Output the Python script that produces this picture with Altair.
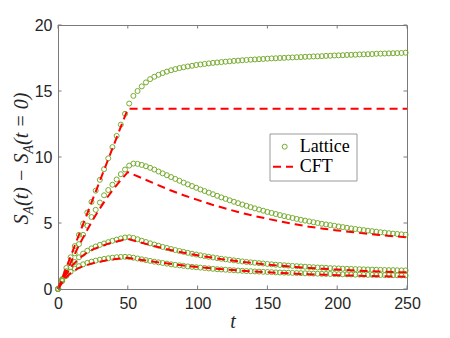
import altair as alt
import pandas as pd

# ---------------- data ----------------
t_lattice = [0, 3, 6, 9, 12, 15, 18, 21, 24, 27, 30, 33, 36, 39, 42, 45, 48, 51, 54, 57,
             60, 63, 66, 69, 72, 75, 78, 81, 84, 87, 90, 93, 96, 99, 102, 105, 108, 111, 114, 117,
             120, 123, 126, 129, 132, 135, 138, 141, 144, 147, 150, 153, 156, 159, 162, 165, 168, 171, 174, 177,
             180, 183, 186, 189, 192, 195, 198, 201, 204, 207, 210, 213, 216, 219, 222, 225, 228, 231, 234, 237,
             240, 243, 246, 249]

lattice_1 = [0.0, 0.75, 1.6, 2.4, 3.25, 4.1, 4.95, 5.8, 6.6, 7.45, 8.27, 9.08, 9.9, 10.75, 11.6, 12.45, 13.27, 14.05, 14.63, 15.0,
             15.35, 15.65, 15.9, 16.08, 16.23, 16.36, 16.47, 16.57, 16.66, 16.74, 16.8, 16.86, 16.91, 16.97, 17.01, 17.05, 17.09, 17.13, 17.16, 17.19,
             17.22, 17.25, 17.28, 17.3, 17.33, 17.35, 17.37, 17.39, 17.41, 17.43, 17.45, 17.47, 17.48, 17.5, 17.51, 17.53, 17.54, 17.56, 17.57, 17.59,
             17.6, 17.62, 17.63, 17.64, 17.66, 17.67, 17.69, 17.7, 17.71, 17.73, 17.74, 17.75, 17.77, 17.78, 17.79, 17.8, 17.82, 17.83, 17.84, 17.85,
             17.86, 17.87, 17.88, 17.9]

lattice_2 = [0.0, 0.7, 1.35, 2.0, 2.7, 3.4, 4.1, 4.8, 5.45, 6.0, 6.55, 7.1, 7.5, 7.9, 8.3, 8.7, 9.05, 9.35, 9.5, 9.48,
             9.4, 9.3, 9.18, 9.05, 8.9, 8.76, 8.62, 8.48, 8.34, 8.2, 8.06, 7.93, 7.8, 7.67, 7.54, 7.42, 7.3, 7.18, 7.06, 6.94,
             6.83, 6.72, 6.61, 6.5, 6.4, 6.3, 6.2, 6.11, 6.02, 5.93, 5.84, 5.76, 5.68, 5.6, 5.52, 5.45, 5.38, 5.31, 5.24, 5.18,
             5.12, 5.06, 5.0, 4.94, 4.89, 4.84, 4.79, 4.74, 4.69, 4.64, 4.59, 4.55, 4.5, 4.46, 4.42, 4.38, 4.34, 4.3, 4.27, 4.23,
             4.2, 4.17, 4.14, 4.11]

lattice_3 = [0.0, 0.65, 1.2, 1.65, 2.05, 2.4, 2.68, 2.9, 3.08, 3.22, 3.34, 3.45, 3.55, 3.65, 3.74, 3.83, 3.9, 3.92, 3.87, 3.77,
             3.66, 3.56, 3.46, 3.37, 3.28, 3.19, 3.11, 3.03, 2.95, 2.88, 2.81, 2.74, 2.67, 2.61, 2.55, 2.49, 2.44, 2.39, 2.34, 2.29,
             2.25, 2.21, 2.17, 2.13, 2.09, 2.05, 2.02, 1.99, 1.96, 1.93, 1.9, 1.87, 1.84, 1.82, 1.8, 1.77, 1.75, 1.73, 1.71, 1.69,
             1.67, 1.65, 1.63, 1.62, 1.6, 1.58, 1.57, 1.56, 1.54, 1.53, 1.52, 1.51, 1.5, 1.49, 1.48, 1.47, 1.46, 1.45, 1.44, 1.43,
             1.43, 1.42, 1.41, 1.41]

lattice_4 = [0.0, 0.6, 1.0, 1.3, 1.55, 1.73, 1.87, 1.98, 2.07, 2.15, 2.22, 2.28, 2.33, 2.37, 2.41, 2.43, 2.44, 2.42, 2.37, 2.31,
             2.25, 2.19, 2.13, 2.07, 2.02, 1.97, 1.92, 1.87, 1.83, 1.79, 1.75, 1.71, 1.68, 1.65, 1.62, 1.59, 1.56, 1.53, 1.5, 1.48,
             1.46, 1.44, 1.42, 1.4, 1.38, 1.36, 1.35, 1.33, 1.32, 1.3, 1.29, 1.28, 1.26, 1.25, 1.24, 1.23, 1.22, 1.21, 1.2, 1.19,
             1.18, 1.17, 1.16, 1.15, 1.14, 1.14, 1.13, 1.12, 1.11, 1.11, 1.1, 1.09, 1.09, 1.08, 1.07, 1.07, 1.06, 1.06, 1.05, 1.05,
             1.04, 1.04, 1.03, 1.03]

t_cft = [0, 5, 10, 15, 20, 25, 30, 35, 40, 45, 50, 60, 70, 80, 90, 100, 110, 120, 130, 140,
         150, 160, 170, 180, 190, 200, 210, 220, 230, 240, 250]

cft_1 = [0.0, 1.37, 2.73, 4.1, 5.46, 6.83, 8.19, 9.56, 10.92, 12.29, 13.65, 13.65, 13.65, 13.65, 13.65, 13.65, 13.65, 13.65, 13.65, 13.65,
         13.65, 13.65, 13.65, 13.65, 13.65, 13.65, 13.65, 13.65, 13.65, 13.65, 13.65]
cft_2 = [0.0, 1.1, 2.2, 3.3, 4.3, 5.25, 6.1, 6.9, 7.6, 8.25, 8.85, 8.4, 7.95, 7.5, 7.1, 6.75, 6.4, 6.1, 5.8, 5.55,
         5.32, 5.1, 4.9, 4.72, 4.57, 4.44, 4.32, 4.2, 4.1, 4.0, 3.92]
cft_3 = [0.0, 1.0, 1.75, 2.3, 2.7, 3.0, 3.2, 3.4, 3.55, 3.68, 3.8, 3.5, 3.22, 2.97, 2.75, 2.55, 2.38, 2.22, 2.08, 1.96,
         1.85, 1.76, 1.67, 1.6, 1.53, 1.47, 1.42, 1.37, 1.33, 1.29, 1.26]
cft_4 = [0.0, 0.8, 1.3, 1.6, 1.8, 1.95, 2.07, 2.17, 2.25, 2.31, 2.36, 2.2, 2.05, 1.91, 1.78, 1.67, 1.57, 1.48, 1.4, 1.33,
         1.27, 1.21, 1.16, 1.12, 1.08, 1.05, 1.02, 0.99, 0.97, 0.95, 0.93]

x_ticks = [0, 50, 100, 150, 200, 250]
y_ticks = [0, 5, 10, 15, 20]
legend_labels = ["Lattice", "CFT"]

# ---------------- build tables ----------------
rows = []
for k, ys in enumerate([lattice_1, lattice_2, lattice_3, lattice_4], 1):
    assert len(ys) == len(t_lattice), (k, len(ys))
    for t, v in zip(t_lattice, ys):
        rows.append({"t": t, "S": v, "series": f"L{k}"})
lat_df = pd.DataFrame(rows)

rows = []
for k, ys in enumerate([cft_1, cft_2, cft_3, cft_4], 1):
    assert len(ys) == len(t_cft), (k, len(ys))
    for t, v in zip(t_cft, ys):
        rows.append({"t": t, "S": v, "series": f"C{k}"})
cft_df = pd.DataFrame(rows)

# ---------------- style ----------------
W, H = 349, 264
GREEN = "#77AC30"
RED = "#FF0000"
AXIS = "#7a7a7a"
TXT = "#262626"
TICK = 3.5
MSIZE = 25

xscale = alt.Scale(domain=[0, 250], nice=False, zero=False)
yscale = alt.Scale(domain=[0, 20], nice=False, zero=False)
xaxis = alt.Axis(values=x_ticks, ticks=False, domain=False, grid=False,
                 labelFont="Liberation Sans", labelFontSize=16, labelColor=TXT,
                 labelPadding=6, labelFlush=False,
                 title="t", titleFont="Liberation Serif", titleFontStyle="italic",
                 titleFontWeight="normal", titleFontSize=20, titleColor=TXT, titlePadding=0)
yaxis = alt.Axis(values=y_ticks, ticks=False, domain=False, grid=False,
                 labelFont="Liberation Sans", labelFontSize=16, labelColor=TXT,
                 labelPadding=6, labelFlush=False, title=None)
X = alt.X("t:Q", scale=xscale, axis=xaxis)
Y = alt.Y("S:Q", scale=yscale, axis=yaxis)

points = alt.Chart(lat_df).mark_point(shape="circle", filled=False, color=GREEN, size=MSIZE,
                                      strokeWidth=1, opacity=1).encode(x=X, y=Y, detail="series:N")
lines = alt.Chart(cft_df).mark_line(color=RED, strokeWidth=2, strokeDash=[8, 5]).encode(
    x=X, y=Y, detail="series:N")

xt_df = pd.DataFrame({"t": x_ticks})
yt_df = pd.DataFrame({"S": y_ticks})
tick_layers = [
    alt.Chart(xt_df).mark_rule(color=AXIS, strokeWidth=1).encode(x=X, y=alt.value(H), y2=alt.value(H - TICK)),
    alt.Chart(xt_df).mark_rule(color=AXIS, strokeWidth=1).encode(x=X, y=alt.value(0), y2=alt.value(TICK)),
    alt.Chart(yt_df).mark_rule(color=AXIS, strokeWidth=1).encode(y=Y, x=alt.value(0), x2=alt.value(TICK)),
    alt.Chart(yt_df).mark_rule(color=AXIS, strokeWidth=1).encode(y=Y, x=alt.value(W), x2=alt.value(W - TICK)),
]

one = alt.Data(values=[{}])
leg_box = alt.Chart(one).mark_rect(fill="white", stroke="#9a9a9a", strokeWidth=1).encode(
    x=alt.value(212), x2=alt.value(299), y=alt.value(109), y2=alt.value(156))
leg_pt = alt.Chart(one).mark_point(shape="circle", filled=False, color=GREEN, size=MSIZE, strokeWidth=1,
                                   opacity=1).encode(x=alt.value(226.7), y=alt.value(121.7))
leg_ln = alt.Chart(one).mark_rule(color=RED, strokeWidth=2, strokeDash=[8, 5]).encode(
    x=alt.value(215), x2=alt.value(235), y=alt.value(141.7))
leg_t1 = alt.Chart(one).mark_text(text=legend_labels[0], align="left", baseline="middle",
                                  font="Liberation Serif", fontSize=18, color="black").encode(
    x=alt.value(241.7), y=alt.value(122))
leg_t2 = alt.Chart(one).mark_text(text=legend_labels[1], align="left", baseline="middle",
                                  font="Liberation Serif", fontSize=18, color="black").encode(
    x=alt.value(241.7), y=alt.value(142))

# y-axis title  S_A(t) - S_A(t = 0), built from pieces (subscripts)
title_parts = [("S", 20, 199.5, -29.8), ("A", 14, 189.5, -25.5), ("(t) \u2212 S", 20, 180.9, -29.8),
               ("A", 14, 128.5, -25.5), ("(t = 0)", 20, 120.0, -29.8)]
title_layers = []
for txt, fs, py, px in title_parts:
    title_layers.append(
        alt.Chart(one).mark_text(text=txt, align="left", baseline="alphabetic", angle=270,
                                 font="Liberation Serif", fontStyle="italic", fontSize=fs,
                                 color=TXT).encode(x=alt.value(px), y=alt.value(py)))

chart = alt.layer(points, lines, *tick_layers, leg_box, leg_pt, leg_ln, leg_t1, leg_t2,
                  *title_layers).properties(
    width=W, height=H,
    padding={"left": 50, "top": 17, "right": 35, "bottom": 44},
    autosize=alt.AutoSizeParams(type="none"),
).configure_view(stroke=AXIS, strokeWidth=1)

chart.save("out.html", embed_options={"renderer": "svg", "actions": False})
